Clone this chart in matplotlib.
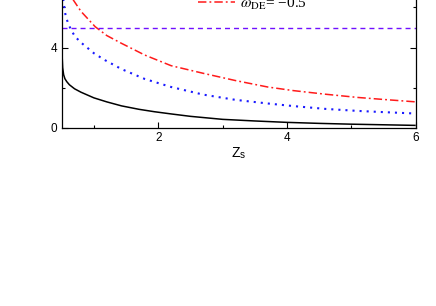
import matplotlib
matplotlib.use("Agg")
import matplotlib.pyplot as plt
from matplotlib.ticker import FixedLocator

# ---- data ----
black_z = [0.5, 0.505, 0.515, 0.53, 0.55, 0.58, 0.62, 0.7, 0.8, 1.0, 1.2, 1.43, 1.7, 1.94, 2.2, 2.5, 3.0, 3.5, 4.0, 4.5, 5.0, 5.5, 6.0]
black_v = [4.38, 3.7, 3.0, 2.65, 2.45, 2.3, 2.15, 1.95, 1.78, 1.5, 1.3, 1.1, 0.93, 0.81, 0.70, 0.58, 0.43, 0.35, 0.28, 0.23, 0.19, 0.16, 0.13]

blue_z = [0.5, 0.525, 0.56, 0.6, 0.65, 0.71, 0.8, 0.91, 1.0, 1.17, 1.43, 1.79, 2.2, 2.7, 3.2, 3.7, 4.1, 4.6, 5.1, 5.5, 6.0]
blue_v = [7.2, 6.37, 5.6, 5.2, 4.85, 4.54, 4.25, 3.96, 3.72, 3.38, 2.93, 2.44, 2.04, 1.66, 1.40, 1.22, 1.09, 0.95, 0.85, 0.79, 0.72]

red_z = [0.55, 0.6, 0.68, 0.8, 1.02, 1.2, 1.43, 1.79, 2.2, 2.7, 3.2, 3.7, 4.1, 4.6, 5.1, 5.5, 6.0]
red_v = [8.0, 7.3, 6.37, 5.8, 5.04, 4.6, 4.21, 3.63, 3.1, 2.72, 2.36, 2.04, 1.86, 1.68, 1.52, 1.42, 1.30]
red_label = r"$\omega_{\rm DE}$" + "= \u22120.5"

hline_value = 5.0

x_major = [2, 4, 6]
x_minor = [1, 3, 5]
y_major = [0, 4]
y_minor = [2, 6]

plt.rcParams["mathtext.fontset"] = "stix"
plt.rcParams["font.family"] = ["Liberation Sans", "DejaVu Sans"]

W, H = 436, 306
fig = plt.figure(figsize=(W / 100, H / 100), dpi=100)
left, right, bottom_px = 61.7, 415.7, 128.0
ymax = 8.0
ppu = 20.1
ax = fig.add_axes([left / W, (H - bottom_px) / H, (right - left) / W, ymax * ppu / H])

ax.plot(black_z, black_v, color="black", lw=1.1, solid_capstyle="butt")
ax.plot(blue_z, blue_v, color="#1a1aff", lw=1.5, linestyle=(0, (1, 2.4)))
red_line, = ax.plot(red_z, red_v, color="#ff1a1a", lw=1.1, linestyle=(0, (5.5, 2, 1.2, 2)), label=red_label)
ax.axhline(hline_value, color="#7010ff", lw=1.0, linestyle=(0, (3.6, 2.9)))

ax.set_xlim(0.5, 6)
ax.set_ylim(0, ymax)
ax.set_xticks(x_major)
ax.set_yticks(y_major)
ax.xaxis.set_minor_locator(FixedLocator(x_minor))
ax.yaxis.set_minor_locator(FixedLocator(y_minor))
ax.tick_params(which="both", direction="in", top=True, right=True, labelsize=8.5, width=0.8, pad=3)
ax.tick_params(which="major", length=4)
ax.tick_params(which="minor", length=2.5)
for s in ax.spines.values():
    s.set_linewidth(0.9)

ax.set_xlabel(r"Z$_\mathregular{s}$", fontsize=10, labelpad=1)

leg = ax.legend(handles=[red_line], loc="center left",
                bbox_to_anchor=(198 / W, 1 - 3.5 / H), bbox_transform=fig.transFigure,
                frameon=False, borderpad=0, borderaxespad=0, handlelength=2.4,
                handletextpad=0.35, prop={"family": "Liberation Serif", "size": 11})

fig.savefig("out.png", dpi=100)
